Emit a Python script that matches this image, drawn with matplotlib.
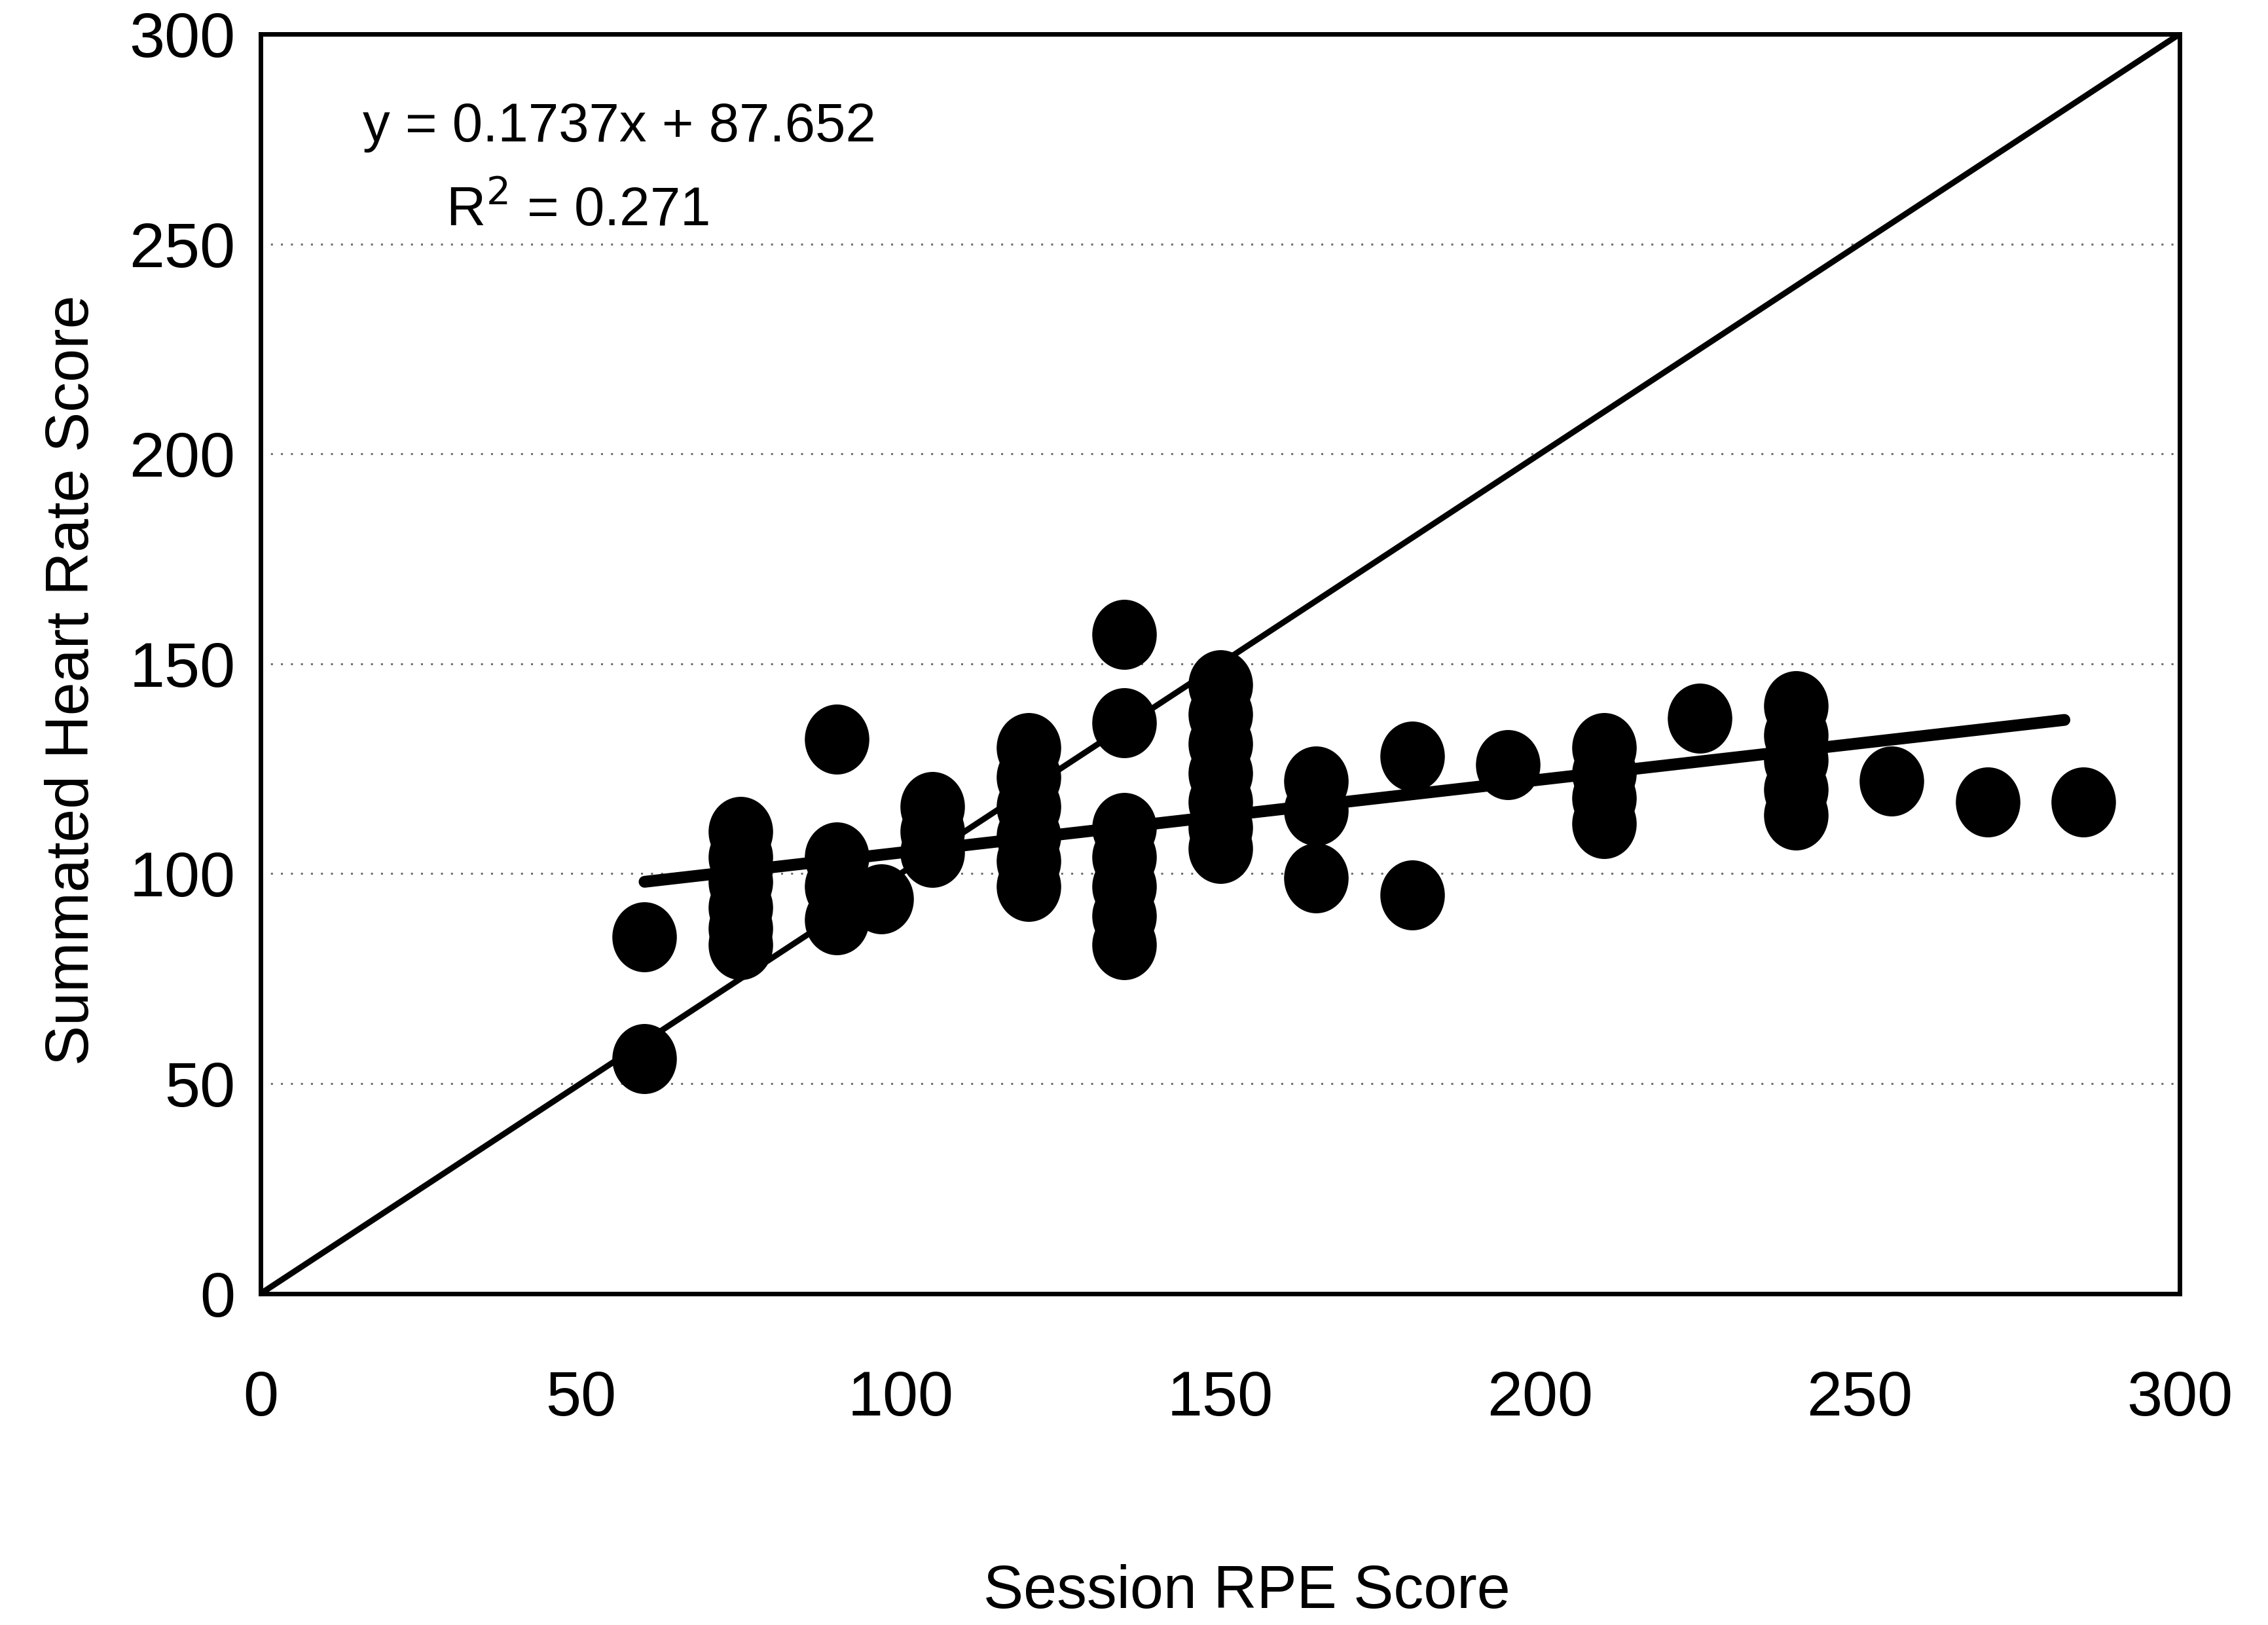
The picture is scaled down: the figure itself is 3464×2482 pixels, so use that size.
import matplotlib
matplotlib.use("Agg")
import matplotlib.pyplot as plt
from matplotlib.path import Path
from matplotlib.transforms import Affine2D
import numpy as np

plt.rcParams['font.family'] = ['Liberation Sans', 'DejaVu Sans']

# ---- data ----
session_rpe = [60, 60,
               75, 75, 75, 75, 75, 75,
               90, 90, 90, 90,
               97,
               105, 105, 105,
               120, 120, 120, 120, 120, 120,
               135, 135, 135, 135, 135, 135, 135,
               150, 150, 150, 150, 150, 150, 150,
               165, 165, 165,
               180, 180,
               195,
               210, 210, 210, 210,
               225,
               240, 240, 240, 240, 240,
               255, 270, 285]
summated_hr = [85, 56,
               110, 104, 98, 92, 87, 83,
               132, 104, 97, 89,
               94,
               116, 110, 105,
               130, 123, 116, 109, 103, 97,
               157, 136, 111, 104, 97, 90, 83,
               145, 138, 131, 124, 117, 111, 106,
               122, 115, 99,
               128, 95,
               126,
               130, 124, 118, 112,
               137,
               140, 133, 127, 120, 114,
               122, 117, 117]

slope = 0.1737
intercept = 87.652
r_squared = 0.271

identity_x = [0, 300]
x_ticks = [0, 50, 100, 150, 200, 250, 300]
y_ticks = [0, 50, 100, 150, 200, 250, 300]

# ---- figure ----
fig = plt.figure(figsize=(34.64, 24.82), dpi=100)
ax = fig.add_axes([0.115, 0.204, 0.846, 0.775])

# slightly tall ellipse marker like the scanned dots
ell = Path.unit_circle().transformed(Affine2D().scale(0.92, 1.0))

ax.plot(session_rpe, summated_hr, linestyle='none', marker=ell,
        markersize=76, color='black', zorder=3)

# line of identity
ax.plot(identity_x, identity_x, color='black', lw=6.5, zorder=2)

# linear trend line across data range
tx = np.array([min(session_rpe), max(session_rpe) - 3])
ax.plot(tx, slope * tx + intercept, color='black', lw=13, zorder=4,
        solid_capstyle='round')

ax.set_xlim(0, 300)
ax.set_ylim(0, 300)
ax.set_xticks(x_ticks)
ax.set_yticks(y_ticks)
ax.set_xticklabels([str(v) for v in x_ticks])
ax.set_yticklabels([str(v) for v in y_ticks])
ax.tick_params(axis='both', length=0, labelsize=70)
ax.tick_params(axis='x', pad=84)
ax.tick_params(axis='y', pad=28)

ax.yaxis.grid(True, linestyle=(0, (1, 4)), color='#6e6e6e', lw=2.2)
ax.xaxis.grid(False)
ax.set_axisbelow(True)

for s in ax.spines.values():
    s.set_linewidth(5)
    s.set_color('black')

ax.set_xlabel('Session RPE Score', fontsize=66)
ax.xaxis.set_label_coords(0.514, -0.237)
ax.xaxis.label.set_va('center')
ax.set_ylabel('Summated Heart Rate Score', fontsize=66)
ax.yaxis.set_label_coords(-0.098, 0.487)
ax.yaxis.label.set_va('center')

ax.text(0.187, 0.926, f'y = {slope}x + {intercept}', transform=ax.transAxes,
        fontsize=60, ha='center', va='center')
ax.text(0.165, 0.860, f'R$^2$ = {r_squared}', transform=ax.transAxes,
        fontsize=60, ha='center', va='center')

fig.savefig('out.png', dpi=100, facecolor='white')
